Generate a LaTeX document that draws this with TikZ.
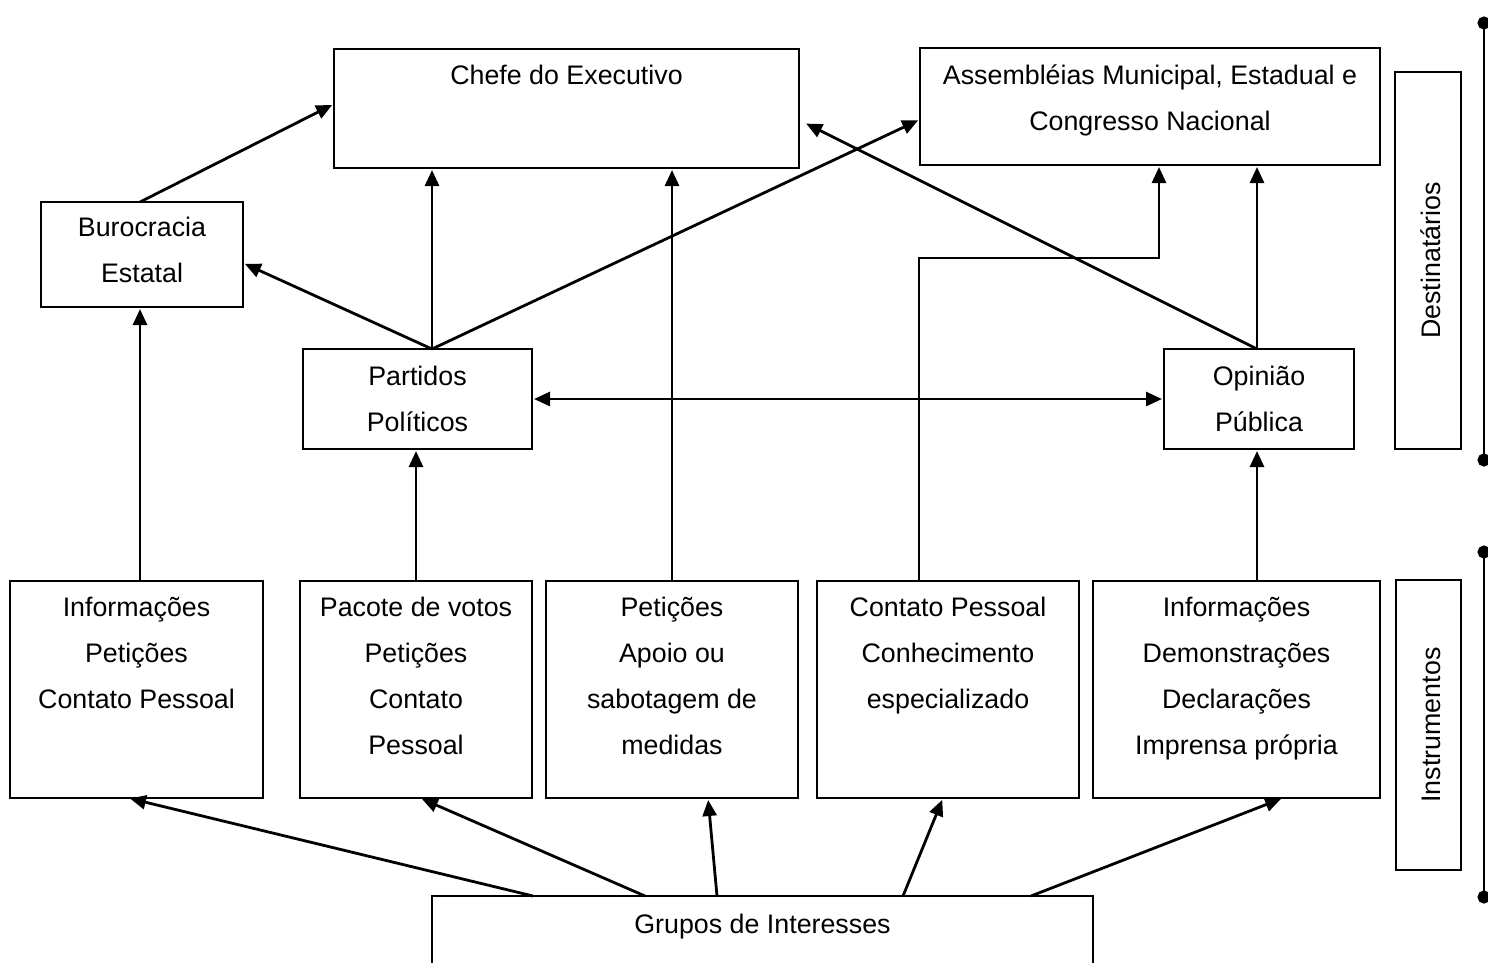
\documentclass[tikz,border=0pt]{standalone}
\usepackage{fontspec}
\setmainfont{Liberation Sans}
\usetikzlibrary{arrows.meta,calc}

\tikzset{
  box/.style={draw, line width=2.2pt, inner sep=0pt, outer sep=0pt, anchor=north west},
  % multi-line text is placed by the baseline of its last line
  txt/.style={align=center, anchor=base, inner sep=0pt,
    font=\fontsize{26.8}{46}\selectfont},
  side/.style={txt, rotate=90},
  arr/.style={line width=2.8pt, -{Triangle[length=16pt,width=14pt]}, shorten >=2pt},
  biarr/.style={line width=2.8pt, {Triangle[length=16pt,width=14pt]}-{Triangle[length=16pt,width=14pt]},
    shorten >=2pt, shorten <=2pt},
  bracket/.style={line width=2.8pt, {Circle[length=13pt]}-{Circle[length=13pt]}},
}

% box from its top-left corner (x1,y1) to bottom-right corner (x2,y2)
\newcommand{\boxnode}[5]{%
  \pgfmathsetmacro{\bw}{#4-#2}\pgfmathsetmacro{\bh}{#5-#3}%
  \node[box, minimum width=\bw pt, minimum height=\bh pt] (#1) at (#2,#3) {};}

\begin{document}
\begin{tikzpicture}[x=1pt, y=-1pt]
\useasboundingbox (0,0) rectangle (1488,962);
\clip (0,0) rectangle (1488,962);

% ---- recipients ----
\boxnode{chefe}{334}{49}{799}{168}
\boxnode{assem}{920}{48}{1380}{165}
\boxnode{buro}{41}{202}{243}{307}
\boxnode{part}{303}{349}{532}{449}
\boxnode{op}{1164}{349}{1354}{449}

\node[txt] (chefet) at (566.5,84) {Chefe do Executivo};
\node[txt] (assemt) at (1150,130) {Assembléias Municipal, Estadual e\\Congresso Nacional};
\node[txt] (burot) at (142,282) {Burocracia\\Estatal};
\node[txt] (partt) at (417.5,431) {Partidos\\Políticos};
\node[txt] (opt) at (1259,431) {Opinião\\Pública};

% ---- instruments ----
\boxnode{b1}{10}{581}{263}{798}
\boxnode{b2}{300}{581}{532}{798}
\boxnode{b3}{546}{581}{798}{798}
\boxnode{b4}{817}{581}{1079}{798}
\boxnode{b5}{1093}{581}{1380}{798}

\node[txt] (b1t) at (136.5,708) {Informações\\Petições\\Contato Pessoal};
\node[txt] (b2t) at (416,754) {Pacote de votos\\Petições\\Contato\\Pessoal};
\node[txt] (b3t) at (672,754) {Petições\\Apoio ou\\sabotagem de\\medidas};
\node[txt] (b4t) at (948,708) {Contato Pessoal\\Conhecimento\\especializado};
\node[txt] (b5t) at (1236.5,754) {Informações\\Demonstrações\\Declarações\\Imprensa própria};

% ---- source ----
\boxnode{grupos}{432}{896}{1093}{1010}
\node[txt] (grupost) at (762.5,933) {Grupos de Interesses};

% ---- side labels ----
\boxnode{dest}{1395}{72}{1461}{449}
\boxnode{inst}{1396}{580}{1461}{870}
\node[side] (destt) at (1440,260.5) {Destinatários};
\node[side] (instt) at (1440,725) {Instrumentos};

\coordinate (d1) at (1484,16.5);
\coordinate (d2) at (1484,466.5);
\coordinate (d3) at (1484,545.5);
\coordinate (d4) at (1484,903.5);
\draw[bracket] (d1) -- (d2);
\draw[bracket] (d3) -- (d4);

% ---- connectors between recipients ----
\draw[arr] ([xshift=-2pt]buro.north) -- ([yshift=4.5pt]chefe.west);
\coordinate (pt) at ([xshift=14.5pt]part.north);
\draw[arr] (pt) -- (chefe.south -| pt);
\draw[arr] (pt) -- ([yshift=-8.5pt]buro.east);
\draw[arr] (pt) -- ([yshift=-13pt]assem.west);
\coordinate (ot) at ([xshift=-2pt]op.north);
\draw[arr, shorten >=8pt] (ot) -- ([yshift=-11.5pt]chefe.east);
\draw[arr] (ot) -- (assem.south -| ot);
\draw[biarr] (part.east) -- (op.west);

% ---- connectors from instruments ----
\coordinate (p1) at ([xshift=3.5pt]b1.north);
\draw[arr] (p1) -- (buro.south -| p1);
\draw[arr] (b2.north) -- (part.south -| b2.north);
\draw[arr] (b3.north) -- (chefe.south -| b3.north);
\coordinate (p4) at ([xshift=-29pt]b4.north);
\coordinate (k1) at (919,258);
\coordinate (k2) at (1159,258);
\draw[arr] (p4) -- (k1) -- (k2) -- (assem.south -| k2);
\draw[arr] (b5.north -| ot) -- (op.south -| ot);

% ---- connectors from the interest groups ----
\draw[arr] ([xshift=-229.5pt]grupos.north) -- ([xshift=-8.5pt]b1.south);
\draw[arr] ([xshift=-117.5pt]grupos.north) -- ([xshift=4pt]b2.south);
\draw[arr] ([xshift=-45.5pt]grupos.north) -- ([xshift=36pt]b3.south);
\draw[arr] ([xshift=140.5pt]grupos.north) -- ([xshift=-5pt]b4.south);
\draw[arr] ([xshift=268.5pt]grupos.north) -- ([xshift=46.5pt]b5.south);
\end{tikzpicture}
\end{document}
